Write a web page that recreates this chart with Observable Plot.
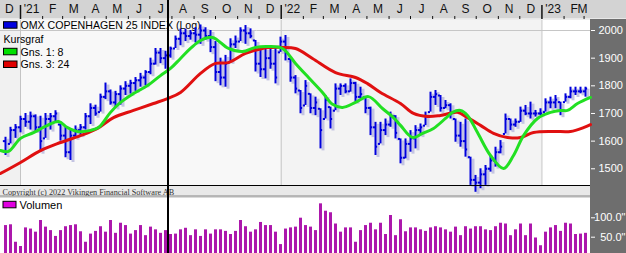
<!DOCTYPE html>
<html><head><meta charset="utf-8">
<script src="https://cdn.jsdelivr.net/npm/d3@7"></script>
<script src="https://cdn.jsdelivr.net/npm/@observablehq/plot@0.6"></script>
<style>
html,body{margin:0;padding:0;background:#fff;overflow:hidden}
#wrap{position:relative;width:626px;height:253px;overflow:hidden}
#wrap svg{display:block;overflow:hidden}
</style></head><body><div id="wrap"></div>
<script>
// ---- data (weekly bars, first bar week of 2020-12-11) ----
const firstWeek = "2020-12-11";
const highs = [1614,1650,1660,1690,1700,1705,1695,1690,1700,1700,
1710,1660,1650,1640,1655,1660,1700,1735,1730,1770,
1810,1785,1780,1800,1815,1820,1830,1845,1855,1900,
1935,1935,1925,1940,1980,2005,2005,2000,2010,2020,
2010,2000,1960,1900,1910,1970,1980,2010,2018,2006,
1964,1935,1935,1935,1935,1976,1982,1897,1837,1783,
1819,1771,1759,1717,1765,1723,1807,1807,1807,1825,
1813,1795,1759,1723,1668,1668,1680,1705,1692,1608,
1608,1638,1656,1662,1705,1777,1783,1765,1747,1735,
1680,1668,1680,1542,1476,1500,1512,1548,1578,1602,
1698,1680,1680,1723,1729,1741,1711,1717,1753,1759,
1765,1741,1771,1795,1795,1795,1795];
const lows = [1548,1590,1610,1630,1650,1640,1635,1560,1610,1640,
1670,1600,1540,1530,1610,1620,1640,1660,1690,1705,
1750,1730,1720,1730,1765,1770,1780,1795,1800,1840,
1875,1880,1860,1900,1935,1945,1960,1965,1955,1950,
1965,1920,1815,1800,1795,1885,1935,1960,1950,1970,
1850,1830,1825,1860,1807,1921,1890,1813,1771,1699,
1729,1699,1692,1572,1680,1644,1710,1765,1771,1777,
1741,1753,1699,1620,1548,1590,1620,1650,1608,1518,
1536,1560,1572,1620,1656,1705,1729,1705,1717,1680,
1596,1578,1542,1440,1415,1428,1440,1488,1506,1554,
1626,1638,1650,1668,1692,1680,1687,1692,1705,1717,
1717,1692,1741,1753,1765,1771,1759];
const opens = [1600,1590,1640,1650,1680,1670,1690,1650,1610,1680,
1690,1660,1620,1560,1620,1640,1650,1690,1720,1705,
1760,1780,1740,1770,1790,1800,1810,1820,1830,1850,
1880,1920,1900,1910,1935,1970,1990,1980,1990,1985,
2000,1980,1940,1850,1830,1885,1950,1960,2000,1990,
1964,1880,1860,1900,1880,1921,1960,1897,1830,1783,
1729,1771,1720,1717,1680,1723,1710,1790,1800,1780,
1810,1760,1759,1720,1650,1590,1640,1660,1690,1608,
1540,1590,1610,1640,1656,1705,1760,1765,1720,1730,
1680,1620,1600,1542,1460,1450,1480,1500,1530,1560,
1626,1680,1660,1670,1710,1700,1700,1700,1705,1740,
1740,1741,1741,1760,1780,1780,1780];
const closes = [1560,1640,1650,1680,1670,1690,1650,1600,1680,1690,
1700,1620,1560,1620,1640,1650,1690,1720,1700,1760,
1780,1740,1770,1790,1800,1810,1820,1830,1850,1880,
1920,1900,1910,1935,1970,1990,1980,1990,1985,2000,
1980,1940,1850,1830,1880,1950,1960,2000,1990,1980,
1880,1860,1900,1880,1830,1960,1920,1830,1790,1720,
1800,1720,1740,1640,1750,1680,1790,1800,1780,1810,
1760,1770,1720,1650,1580,1640,1660,1690,1630,1540,
1590,1610,1640,1650,1690,1760,1770,1720,1730,1700,
1620,1600,1570,1460,1450,1480,1500,1530,1560,1580,
1680,1660,1670,1710,1700,1700,1700,1700,1740,1740,
1750,1710,1760,1780,1780,1780,1790];
const volumes = [80,82,37,26,74,71,63,93,76,67,
52,67,77,80,82,64,37,58,65,77,
63,93,60,86,80,58,67,80,54,76,
69,60,67,57,58,69,73,54,69,52,
69,58,69,69,65,57,65,93,77,63,
69,88,80,80,63,31,71,74,76,99,
80,76,67,136,117,113,84,63,74,74,
37,67,80,86,69,86,57,106,54,95,
64,74,74,69,65,74,77,74,69,63,
76,54,77,71,77,77,69,67,77,86,
84,54,69,84,54,84,48,28,63,74,
80,65,86,84,57,58,60];
// moving averages (week offset from first bar, value)
const greenWeeks = [-1,0.6,3,5.6,8.4,10.6,12.4,14.4,17,18.6,21,23,25.6,28.4,31,33,35,37,39,41.4,44.6,47.4,50,52.6,55.4,58,60.6,63.4,65.4,67.4,70,72.6,75.4,77.6,79,81.4,83.4,85.6,88,89.4,91,92.4,94.4,97,99.6,101.6,103.6,106.4,109,111,112.4,114.4,117];
const greenValues = [1566,1563,1610,1631,1657,1671,1649,1635,1639,1649,1704,1740,1772,1801,1837,1863,1899,1935,1964,1975,1935,1924,1939,1942,1935,1881,1830,1776,1733,1722,1740,1761,1718,1685,1657,1613,1628,1646,1682,1704,1711,1693,1631,1548,1501,1548,1620,1682,1704,1711,1711,1736,1758];
const redWeeks = [-1,3,7,11,15,18.4,21.6,25.6,29.6,32.4,35,39,42,44.6,48,51.4,55.4,58,61.4,66,70,72.4,75,79,81.6,84.4,87,90.4,92.4,95,97.6,100.4,103,105.6,109.6,113,115.6,117];
const redValues = [1483,1523,1566,1595,1620,1646,1685,1711,1736,1754,1776,1845,1881,1884,1917,1935,1939,1935,1899,1848,1830,1808,1776,1736,1700,1689,1693,1704,1685,1657,1628,1613,1613,1631,1635,1635,1649,1660];
const monthLabels = ["D","'21","F","M","A","M","J","J","A","S","O","N","D","'22","F","M","A","M","J","J","A","S","O","N","D","'23","F","M"];
const priceTicks = [1500,1600,1700,1800,1900,2000];
const volumeTicks = [50,100];
const legendLabels = ["OMX COPENHAGEN 25 INDEX (Log)","Kursgraf","Gns. 1: 8","Gns. 3: 24"];
const volumeLabel = "Volumen";
const copyright = "Copyright (c) 2022 Vikingen Financial Software AB";
const cursorDate = "2021-07-27";

// ---- build ----
const DAY = 864e5, WEEK = 7*DAY;
const t0 = new Date(firstWeek + "T00:00:00Z");
const weekDate = w => new Date(+t0 + w*WEEK);
const xStart = new Date("2020-12-04T00:00:00Z"), xEnd = new Date("2023-03-10T00:00:00Z");
const bars = highs.map((h,i)=>({date: weekDate(i), high: h, low: lows[i], open: opens[i], close: closes[i]}));
const vols = volumes.map((v,i)=>({date: weekDate(i), volume: v}));
const green = greenWeeks.map((w,i)=>({date: weekDate(w), value: greenValues[i]}));
const red = redWeeks.map((w,i)=>({date: weekDate(w), value: redValues[i]}));
const m0 = new Date("2020-12-01T00:00:00Z");
const months = monthLabels.map((label,k)=>{const s=d3.utcMonth.offset(m0,k), e=d3.utcMonth.offset(s,1); return {label, date: new Date((+s + +e)/2)};});
const monthsIn = months.filter(d=>d.date<=xEnd);
const monthsOut = months.filter(d=>d.date>xEnd).map(d=>({...d, date: xEnd}));
const tickMonths = d3.utcMonth.range(xStart, xEnd).filter(d=>d.getUTCMonth()!==0);
const yearStarts = d3.utcYear.range(xStart, xEnd);
const yearBands = [
  {start: xStart, end: yearStarts[0], fill: "#f1f1f1"},
  {start: yearStarts[0], end: yearStarts[1], fill: "#f8f8f8"},
  {start: yearStarts[1], end: yearStarts[2], fill: "#f3f3f3"},
  {start: yearStarts[2], end: xEnd, fill: "#ffffff"}];
const yDomain = [1439.6, 2036.2];
const font = "'Liberation Sans', Arial, sans-serif";
const blue = "#0000dc";

const price = Plot.plot({
  width: 626, height: 196, marginTop: 20, marginBottom: 11, marginLeft: 0, marginRight: 36,
  x: {type: "utc", domain: [xStart, xEnd], axis: null},
  y: {domain: yDomain, axis: null},
  style: {fontFamily: font, fontSize: "11px", background: "#f4f4f4", color: "black"},
  marks: [
    Plot.rect(yearBands, {x1: "start", x2: "end", fill: "fill"}),
    Plot.ruleY([priceTicks[priceTicks.length-1]], {stroke: "#c6c6c6"}),
    Plot.ruleX(yearStarts, {stroke: "#c4c4c4"}),
    Plot.text([legendLabels[0]], {text: d=>d, frameAnchor: "top-left", dx: 20, dy: 5, lineAnchor: "middle", fontSize: 10.6, fill: "black"}),
    Plot.text([legendLabels[1]], {text: d=>d, frameAnchor: "top-left", dx: 3, dy: 19, lineAnchor: "middle", fontSize: 10.6, fill: "black"}),
    Plot.text([legendLabels[2]], {text: d=>d, frameAnchor: "top-left", dx: 20, dy: 32, lineAnchor: "middle", fontSize: 10.6, fill: "black"}),
    Plot.text([legendLabels[3]], {text: d=>d, frameAnchor: "top-left", dx: 20, dy: 44, lineAnchor: "middle", fontSize: 10.6, fill: "black"}),
    Plot.ruleX(bars, {x: "date", y1: "low", y2: "high", stroke: "#c4c4e2", strokeWidth: 3, dx: 2.5, dy: 2}),
    Plot.ruleX(bars, {x: "date", y1: "low", y2: "high", stroke: blue, strokeWidth: 2}),
    Plot.ruleY(bars, {y: "open", x1: d=>new Date(+d.date - 3*DAY), x2: "date", stroke: blue, strokeWidth: 2}),
    Plot.ruleY(bars, {y: "close", x1: "date", x2: d=>new Date(+d.date + 3*DAY), stroke: blue, strokeWidth: 2}),
    Plot.line(red, {x: "date", y: "value", stroke: "#e01010", strokeWidth: 3, curve: "catmull-rom"}),
    Plot.line(green, {x: "date", y: "value", stroke: "#22e022", strokeWidth: 3, curve: "catmull-rom"}),
    Plot.ruleY([yDomain[0]], {stroke: "black", strokeWidth: 1.2}),
    Plot.axisY({anchor: "right", ticks: priceTicks, tickSize: 4, tickPadding: 4, tickFormat: d=>String(d), color: "white", fontSize: 11, label: null}),
    Plot.axisX({anchor: "top", ticks: tickMonths, tickSize: 3, tickFormat: ()=>"", dy: -2, label: null, color: "#111"}),
    Plot.axisX({anchor: "top", ticks: yearStarts, tickSize: 14, tickFormat: ()=>"", dy: -2, label: null, color: "#111", strokeWidth: 1.5}),
    Plot.text(monthsIn, {x: "date", text: "label", frameAnchor: "top", dy: -11.5, lineAnchor: "middle", fontSize: 12, fill: "#111"}),
    Plot.text(monthsOut, {x: "date", text: "label", frameAnchor: "top", dy: -11.5, dx: -3, textAnchor: "end", lineAnchor: "middle", fontSize: 12, fill: "#111"}),
    Plot.text([copyright], {text: d=>d, frameAnchor: "bottom-left", dx: 2, dy: 6.5, lineAnchor: "middle", fontFamily: "'Liberation Serif', 'Times New Roman', serif", fontSize: 8.2, fill: "#333"})
  ]
});

const volume = Plot.plot({
  width: 626, height: 57, marginTop: 0, marginBottom: 0, marginLeft: 0, marginRight: 36,
  x: {type: "utc", domain: [xStart, xEnd], axis: null},
  y: {domain: [0, 150], range: [60.1, 1.9], axis: null},
  style: {fontFamily: font, fontSize: "11px", background: "white", color: "black"},
  marks: [
    Plot.ruleX(vols, {x: "date", y1: 0, y2: "volume", stroke: "#ac18ac", strokeWidth: 3}),
    Plot.axisY({anchor: "right", ticks: volumeTicks, tickSize: 4, tickPadding: 31, textAnchor: "end", tickFormat: d=>d.toFixed(1)+'"', color: "white", fontSize: 11, label: null}),
    Plot.text([volumeLabel], {text: d=>d, frameAnchor: "top-left", dx: 19, dy: 9, lineAnchor: "middle", fontSize: 11, fill: "black"})
  ]
});

// ---- decorative backgrounds ----
const ps = d3.select(price);
const pbg = ps.insert("g", ":first-child");
pbg.append("rect").attr("x",0).attr("y",0).attr("width",626).attr("height",18.5).attr("fill","#d3d3d3");
pbg.append("rect").attr("x",0).attr("y",18.5).attr("width",626).attr("height",1.5).attr("fill","#ececec");
pbg.append("rect").attr("x",590).attr("y",19).attr("width",36).attr("height",177).attr("fill","#6e6e6e");
pbg.append("rect").attr("x",0).attr("y",185.5).attr("width",590).attr("height",10.5).attr("fill","#e9e9e9");
pbg.append("rect").attr("x",0).attr("y",195).attr("width",590).attr("height",1).attr("fill","#b8b8b8");
const sw = [[21.7,"#0000e0"],[48.3,"#00e000"],[61,"#e00000"]];
for (const [y,c] of sw) ps.append("rect").attr("x",3.5).attr("y",y).attr("width",13.5).attr("height",6.5).attr("fill",c).attr("stroke","black").attr("stroke-width",1);

const vs = d3.select(volume);
const vbg = vs.insert("g", ":first-child");
vbg.append("rect").attr("x",0).attr("y",0).attr("width",590).attr("height",57).attr("fill","#ffffff");
vbg.append("rect").attr("x",0).attr("y",0).attr("width",590).attr("height",1.5).attr("fill","#b5b5b5");
vbg.append("rect").attr("x",590).attr("y",0).attr("width",36).attr("height",57).attr("fill","#6e6e6e");
vs.append("rect").attr("x",3).attr("y",5.3).attr("width",13).attr("height",6.5).attr("fill","#e000e0").attr("stroke","black").attr("stroke-width",1);

const wrap = document.getElementById("wrap");
wrap.appendChild(price);
wrap.appendChild(volume);
const cx = price.scale("x").apply(new Date(cursorDate + "T00:00:00Z"));
const cur = document.createElement("div");
cur.style.cssText = `position:absolute;left:${cx-0.5}px;top:0;width:1.3px;height:253px;background:#000`;
wrap.appendChild(cur);
</script></body></html>
